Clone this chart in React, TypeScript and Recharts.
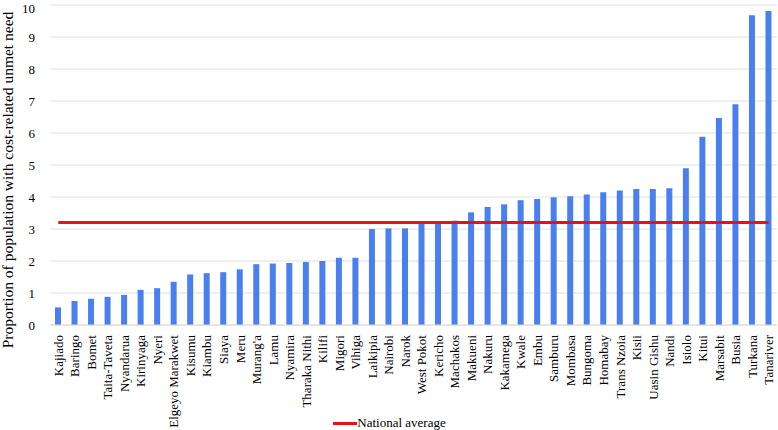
import * as React from 'react';
import {
  ComposedChart,
  Bar,
  Line,
  XAxis,
  YAxis,
  CartesianGrid,
  Legend,
} from 'recharts';

const counties = [
  'Kajiado', 'Baringo', 'Bomet', 'Taita-Taveta', 'Nyandarua', 'Kirinyaga', 'Nyeri',
  'Elgeyo Marakwet', 'Kisumu', 'Kiambu', 'Siaya', 'Meru', "Murang'a", 'Lamu',
  'Nyamira', 'Tharaka Nithi', 'Kilifi', 'Migori', 'Vihiga', 'Laikipia', 'Nairobi',
  'Narok', 'West Pokot', 'Kericho', 'Machakos', 'Makueni', 'Nakuru', 'Kakamega',
  'Kwale', 'Embu', 'Samburu', 'Mombasa', 'Bungoma', 'Homabay', 'Trans Nzoia',
  'Kisii', 'Uasin Gishu', 'Nandi', 'Isiolo', 'Kitui', 'Marsabit', 'Busia',
  'Turkana', 'Tanariver',
];

const unmetNeed = [
  0.55, 0.75, 0.82, 0.88, 0.94, 1.1, 1.15,
  1.35, 1.58, 1.62, 1.65, 1.74, 1.9, 1.92,
  1.94, 1.97, 2.0, 2.1, 2.1, 3.0, 3.02,
  3.02, 3.16, 3.17, 3.26, 3.52, 3.69, 3.77,
  3.9, 3.94, 3.99, 4.02, 4.08, 4.15, 4.2,
  4.25, 4.25, 4.27, 4.9, 5.88, 6.47, 6.9,
  9.68, 9.81,
];

const NATIONAL_AVERAGE = 3.2;

const yTicks = [0, 1, 2, 3, 4, 5, 6, 7, 8, 9, 10];

const data = counties.map((name, i) => ({
  name,
  value: unmetNeed[i],
  national: NATIONAL_AVERAGE,
}));

const FONT = '"Liberation Serif", "Times New Roman", serif';

// x labels standing upright, reading bottom to top
const CountyTick = (props: any) => {
  const { x, y, payload } = props;
  return (
    <text
      x={x}
      y={y + 2}
      transform={`rotate(-90, ${x}, ${y + 2})`}
      textAnchor="end"
      dominantBaseline="central"
      fontSize={13}
      fontFamily={FONT}
      fill="#000"
    >
      {payload.value}
    </text>
  );
};

const renderLegend = () => (
  <div
    style={{
      display: 'flex',
      justifyContent: 'center',
      alignItems: 'center',
      fontFamily: FONT,
      fontSize: 13,
      color: '#000',
      paddingTop: 10,
      marginLeft: -8,
    }}
  >
    <span
      style={{ width: 24, height: 3, background: '#e4131b', display: 'inline-block' }}
    />
    <span>National average</span>
  </div>
);

export default function App() {
  return (
    <div>
      <style>{`body{margin:0}`}</style>
      <ComposedChart
        width={778}
        height={430}
        data={data}
        margin={{ top: 5, right: 1, bottom: 0, left: 10 }}
        barCategoryGap={0}
      >
        <CartesianGrid vertical={false} stroke="#e0e0e0" />
        <XAxis
          dataKey="name"
          interval={0}
          height={80}
          tickLine={false}
          axisLine={{ stroke: '#dcdcdc' }}
          tick={<CountyTick />}
        />
        <YAxis
          width={40}
          domain={[0, 10]}
          ticks={yTicks}
          tickLine={false}
          axisLine={false}
          tickMargin={9}
          tick={{ fontSize: 13, fontFamily: FONT, fill: '#000' }}
          label={{
            value: 'Proportion of population with cost-related unmet need',
            angle: -90,
            position: 'insideLeft',
            dx: -8,
            dy: 15,
            style: { fontSize: 15.5, fontFamily: FONT, fill: '#000', textAnchor: 'middle' },
          }}
        />
        <Bar
          dataKey="value"
          fill="#4a7ff0"
          barSize={6}
          isAnimationActive={false}
          legendType="none"
        />
        <Line
          dataKey="national"
          name="National average"
          stroke="#e4131b"
          strokeWidth={3}
          dot={false}
          activeDot={false}
          isAnimationActive={false}
        />
        <Legend verticalAlign="bottom" height={25} content={renderLegend} />
      </ComposedChart>
    </div>
  );
}
